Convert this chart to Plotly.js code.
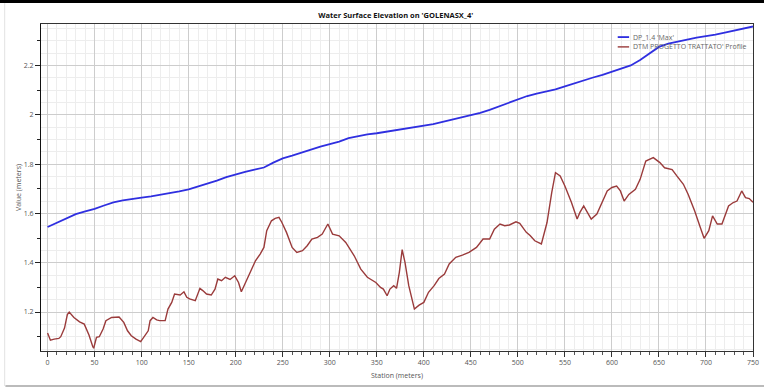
<!DOCTYPE html>
<html><head><meta charset="utf-8">
<script src="https://cdn.plot.ly/plotly-3.0.1.min.js"></script>
<style>html,body{margin:0;padding:0;background:#fff;}#chart{width:764px;height:389px;}</style>
</head><body><div id="chart"></div>
<script>
const chartTitle = "Water Surface Elevation on 'GOLENASX_4'";
const wsName = "DP_1.4 'Max'";
const groundName = "DTM PROGETTO TRATTATO' Profile";

const wsStation = [0,10,20,30,40,50,60,70,80,90,100,110,120,130,140,150,160,170,180,190,200,210,220,230,240,250,260,270,280,290,300,310,320,330,340,350,360,370,380,390,400,410,420,430,440,450,460,470,480,490,500,510,520,530,540,550,560,570,580,590,600,610,620,630,640,650,660,670,680,690,700,710,720,730,740,750];
const wsValue = [1.545,1.562,1.58,1.597,1.608,1.618,1.632,1.645,1.653,1.66,1.664,1.669,1.675,1.681,1.689,1.697,1.708,1.72,1.733,1.747,1.759,1.768,1.777,1.786,1.806,1.823,1.834,1.847,1.858,1.871,1.881,1.891,1.905,1.914,1.92,1.925,1.931,1.937,1.943,1.949,1.955,1.962,1.971,1.98,1.99,1.999,2.008,2.02,2.034,2.049,2.064,2.076,2.086,2.094,2.103,2.115,2.128,2.14,2.151,2.162,2.174,2.187,2.2,2.222,2.249,2.275,2.288,2.298,2.305,2.313,2.318,2.325,2.333,2.341,2.35,2.358];

const groundStation = [0,3,7,12,14,18,21,23,28,34,39,41,44,48,49,52,55,59,62,68,73,76,81,85,89,94,99,103,107,109,112,116,119,125,128,132,135,141,145,148,151,157,162,165,169,174,178,181,185,189,194,199,203,206,210,215,221,226,230,233,238,242,246,249,254,260,265,271,276,281,287,292,298,303,310,317,326,333,340,349,354,357,361,364,368,371,374,377,380,384,387,390,395,400,405,411,416,422,427,434,441,448,456,463,470,475,481,486,491,498,502,509,513,518,525,531,536,540,545,550,557,563,566,570,573,578,584,589,595,600,605,609,613,618,625,630,636,644,651,656,664,669,676,681,688,694,698,703,707,712,717,724,729,733,738,742,746,750];
const groundValue = [1.115,1.086,1.09,1.093,1.1,1.135,1.19,1.2,1.178,1.16,1.151,1.135,1.107,1.06,1.053,1.097,1.1,1.131,1.165,1.178,1.178,1.18,1.158,1.124,1.104,1.09,1.08,1.104,1.124,1.165,1.178,1.168,1.165,1.165,1.212,1.239,1.273,1.269,1.282,1.26,1.253,1.246,1.296,1.287,1.273,1.269,1.293,1.334,1.327,1.341,1.332,1.347,1.32,1.282,1.314,1.361,1.408,1.435,1.462,1.53,1.57,1.58,1.584,1.564,1.523,1.462,1.442,1.449,1.469,1.496,1.503,1.516,1.557,1.516,1.509,1.482,1.428,1.374,1.341,1.32,1.30,1.293,1.266,1.293,1.307,1.296,1.361,1.453,1.401,1.307,1.253,1.212,1.228,1.239,1.28,1.307,1.336,1.354,1.395,1.422,1.431,1.442,1.462,1.496,1.496,1.536,1.557,1.55,1.553,1.566,1.56,1.523,1.51,1.489,1.476,1.563,1.684,1.765,1.752,1.711,1.644,1.577,1.604,1.63,1.61,1.577,1.597,1.637,1.691,1.705,1.711,1.691,1.65,1.677,1.698,1.738,1.812,1.826,1.806,1.785,1.778,1.752,1.718,1.678,1.61,1.543,1.499,1.53,1.59,1.557,1.557,1.63,1.644,1.65,1.691,1.664,1.66,1.645];

const wsColor = "#2f2fe0";
const groundColor = "#9a3b3b";
const fontFam = "Open Sans, Arial, sans-serif";
const tickFont = {family: fontFam, size: 7, color: "#555"};

const traces = [
  {x: groundStation, y: groundValue, name: groundName, type: "scatter", mode: "lines",
   line: {color: groundColor, width: 1.4}},
  {x: wsStation, y: wsValue, name: wsName, type: "scatter", mode: "lines",
   line: {color: wsColor, width: 1.8}},
  {x: [0], y: [1.5], yaxis: "y2", showlegend: false, hoverinfo: "skip", mode: "markers",
   marker: {opacity: 0}}
];

// legend drawn as annotations (compact rows like the reference)
const legX0 = 0.810, legX1 = 0.826, legTextX = 0.829;
const legY = [0.96, 0.93];
const legendAnn = [
  {text: wsName, x: legTextX, y: legY[0]},
  {text: groundName, x: legTextX, y: legY[1]}
].map(a => Object.assign(a, {xref: "paper", yref: "paper", xanchor: "left", yanchor: "middle",
  showarrow: false, font: {family: fontFam, size: 7, color: "#666"}}));

const layout = {
  width: 764, height: 389,
  margin: {l: 41, r: 11, t: 24, b: 38},
  paper_bgcolor: "#fff", plot_bgcolor: "#fff",
  showlegend: false,
  title: {text: chartTitle, font: {family: fontFam, size: 7.5, color: "#111", weight: "bold"},
          x: 0.518, xanchor: "center", y: 0.96, yanchor: "middle", xref: "container", yref: "container"},
  annotations: legendAnn,
  xaxis: {range: [-7, 750], dtick: 50, tick0: 0, ticks: "outside", ticklen: 5, tickcolor: "#333",
          showline: true, linecolor: "#333", linewidth: 1, mirror: true, zeroline: false,
          gridcolor: "#cdcdcd", gridwidth: 1, tickfont: tickFont,
          minor: {dtick: 10, ticks: "outside", ticklen: 3, tickcolor: "#555", showgrid: true, gridcolor: "#ededed"},
          title: {text: "Station (meters)", font: {family: fontFam, size: 7, color: "#555"}, standoff: 6}},
  yaxis: {range: [1.042, 2.368], dtick: 0.2, tick0: 1.2, ticks: "outside", ticklen: 5, tickcolor: "#222",
          showline: true, linecolor: "#333", linewidth: 1, mirror: true, zeroline: false,
          gridcolor: "#cdcdcd", gridwidth: 1, tickfont: tickFont,
          minor: {dtick: 0.05, ticks: "", showgrid: true, gridcolor: "#ededed"},
          title: {text: "Value (meters)", font: {family: fontFam, size: 7, color: "#555"}, standoff: 1}},
  yaxis2: {overlaying: "y", matches: "y", side: "left", range: [1.042, 2.368], dtick: 0.1, tick0: 1.2,
           ticks: "outside", ticklen: 3, tickcolor: "#222", showticklabels: false, showgrid: false,
           zeroline: false, showline: true, linecolor: "#111", linewidth: 1.5},
  shapes: [
    {type: "line", xref: "paper", yref: "paper", x0: legX0, x1: legX1, y0: legY[0], y1: legY[0],
     line: {color: wsColor, width: 1.8}},
    {type: "line", xref: "paper", yref: "paper", x0: legX0, x1: legX1, y0: legY[1], y1: legY[1],
     line: {color: groundColor, width: 1.4}},
    {type: "rect", xref: "paper", yref: "paper", x0: -0.06, x1: 1.02, y0: 1.064, y1: 1.08,
     fillcolor: "#000", line: {width: 0}},
    {type: "line", xref: "paper", yref: "paper", x0: -0.05, x1: 1.02, y0: -0.107, y1: -0.107,
     line: {color: "#bbb", width: 2}},
    {type: "line", xref: "paper", yref: "paper", x0: -0.051, x1: -0.051, y0: -0.107, y1: 1.064,
     line: {color: "#e2e2e2", width: 1}}
  ]
};

Plotly.newPlot("chart", traces, layout, {displayModeBar: false, staticPlot: true});
</script>
</body></html>
